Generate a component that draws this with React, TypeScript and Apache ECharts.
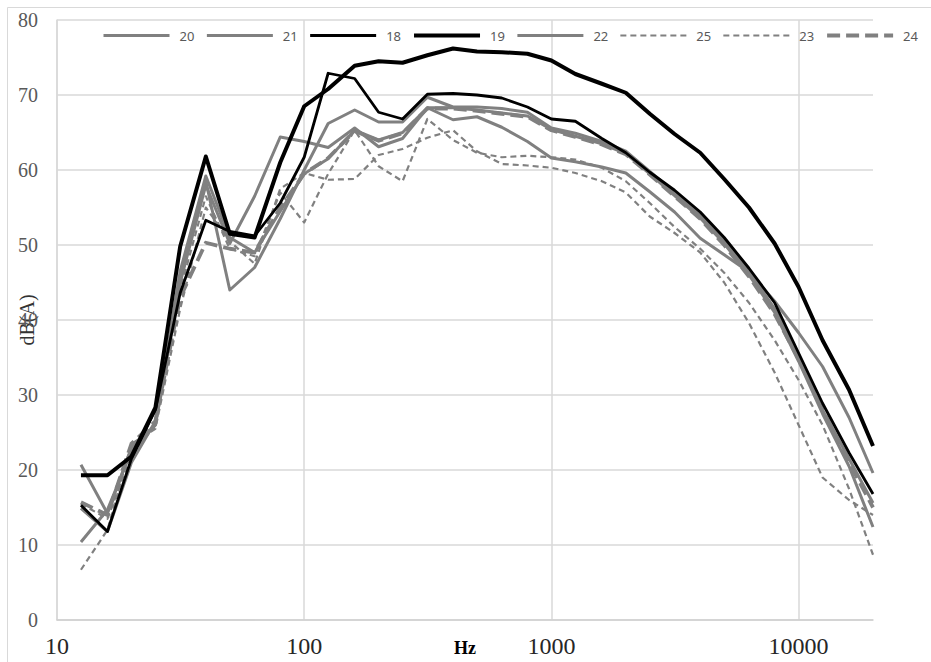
import React, { useEffect, useRef } from 'react';
import * as echarts from 'echarts';

// third-octave band centre frequencies (Hz)
const frequencies = [12.5, 16, 20, 25, 31.5, 40, 50, 63, 80, 100, 125, 160, 200, 250, 315, 400, 500, 630, 800, 1000, 1250, 1600, 2000, 2500, 3150, 4000, 5000, 6300, 8000, 10000, 12500, 16000, 20000];

const legendOrder = ['20', '21', '18', '19', '22', '25', '23', '24'];
const xTickValues = [10, 100, 1000, 10000];

const s20 = [10.4, 14.7, 22.5, 26.0, 45.0, 58.0, 50.2, 56.5, 64.4, 63.8, 63.0, 65.6, 63.1, 64.2, 68.3, 66.7, 67.1, 65.7, 63.8, 61.6, 61.1, 60.4, 59.6, 57.1, 54.4, 50.9, 48.7, 46.4, 42.5, 38.3, 33.8, 27.0, 19.6];
const s21 = [14.9, 11.8, 21.0, 26.5, 46.0, 58.5, 44.0, 47.0, 53.5, 60.0, 66.2, 68.0, 66.4, 66.4, 69.7, 68.4, 68.4, 68.2, 67.7, 65.6, 64.9, 63.8, 62.5, 59.8, 57.0, 54.0, 50.6, 46.5, 41.5, 35.0, 28.0, 21.5, 15.6];
const s18 = [15.3, 11.8, 21.5, 28.0, 43.6, 53.3, 51.8, 51.2, 55.6, 61.7, 72.9, 72.2, 67.7, 66.8, 70.1, 70.2, 70.0, 69.6, 68.4, 66.8, 66.5, 64.2, 62.3, 59.7, 57.3, 54.4, 51.0, 46.9, 42.3, 35.6, 28.9, 22.3, 16.8];
const s19 = [19.3, 19.3, 21.8, 28.3, 49.8, 61.8, 51.5, 51.0, 61.0, 68.5, 70.8, 73.9, 74.5, 74.3, 75.3, 76.2, 75.8, 75.7, 75.5, 74.6, 72.8, 71.5, 70.3, 67.5, 64.8, 62.3, 58.8, 55.0, 50.2, 44.4, 37.3, 30.7, 23.2];
const s22 = [20.7, 14.2, 23.0, 26.0, 46.5, 59.2, 51.0, 49.0, 54.5, 59.5, 61.5, 65.3, 64.0, 65.0, 68.3, 68.3, 68.0, 67.6, 67.2, 65.4, 64.5, 63.5, 62.2, 59.5, 56.6, 53.6, 50.2, 46.0, 41.0, 34.5, 27.5, 20.5, 12.4];
const s25 = [15.5, 13.5, 22.0, 26.0, 44.0, 56.5, 49.5, 48.5, 57.0, 53.0, 59.5, 65.3, 60.5, 58.5, 66.8, 64.0, 62.3, 61.7, 61.9, 61.7, 61.4, 60.3, 58.5, 55.6, 52.4, 49.5, 46.3, 42.3, 37.3, 32.0, 26.0, 17.5, 8.7];
const s23 = [6.7, 12.0, 23.5, 25.5, 41.5, 55.0, 50.5, 47.5, 57.5, 59.6, 58.7, 58.8, 62.0, 62.8, 64.3, 65.3, 62.5, 60.8, 60.6, 60.3, 59.6, 58.5, 57.0, 53.8, 51.6, 49.0, 45.0, 39.6, 33.0, 26.0, 19.0, 16.0, 14.0];
const s24 = [15.7, 14.0, 23.5, 26.5, 43.0, 50.3, 49.5, 49.0, 55.0, 59.5, 61.6, 65.2, 63.9, 64.9, 68.2, 68.2, 67.9, 67.5, 67.1, 65.3, 64.4, 63.4, 62.1, 59.4, 56.5, 53.5, 50.0, 45.8, 40.8, 34.8, 28.0, 21.0, 15.0];

const GRAY = '#808080';
const BLACK = '#000000';

type Style = { color: string; width: number; type: any };
const styles: Record<string, Style> = {
  '20': { color: GRAY, width: 3, type: 'solid' },
  '21': { color: GRAY, width: 3, type: 'solid' },
  '18': { color: BLACK, width: 2.8, type: 'solid' },
  '19': { color: BLACK, width: 4, type: 'solid' },
  '22': { color: GRAY, width: 3, type: 'solid' },
  '25': { color: GRAY, width: 2.2, type: [6, 4] },
  '23': { color: GRAY, width: 2.2, type: [6, 4] },
  '24': { color: GRAY, width: 3.8, type: [13, 6] },
};

export default function App() {
  const ref = useRef<HTMLDivElement>(null);

  useEffect(() => {
    if (!ref.current) return;
    const chart = echarts.init(ref.current, undefined, { renderer: 'svg' });

    const mk = (name: string, values: number[], z: number) => {
      const st = styles[name];
      return {
        name,
        type: 'line',
        data: frequencies.map((f, i) => [f, values[i]]),
        symbol: 'none',
        showSymbol: false,
        z,
        lineStyle: { color: st.color, width: st.width, type: st.type, cap: 'butt', join: 'round' },
        itemStyle: { color: st.color },
        emphasis: { disabled: true },
      };
    };

    const option: any = {
      animation: false,
      backgroundColor: '#ffffff',
      textStyle: { fontFamily: 'Liberation Serif' },
      graphic: [
        {
          type: 'rect',
          silent: true,
          z: -10,
          shape: { x: 7.5, y: 7.5, width: 960, height: 720 },
          style: { fill: 'none', stroke: '#d9d9d9', lineWidth: 1 },
        },
      ],
      grid: { left: 57, right: 58, top: 20, bottom: 42, outerBoundsMode: 'none', containLabel: false },
      legend: {
        data: legendOrder.map((n) => ({
          name: n,
          lineStyle: { color: styles[n].color, width: styles[n].width, type: styles[n].type, cap: 'butt' },
        })),
        left: 102,
        top: 29,
        padding: 0,
        width: 829,
        itemWidth: 66,
        itemHeight: 14,
        itemGap: 11,
        itemStyle: { color: 'rgba(0,0,0,0)', borderColor: 'rgba(0,0,0,0)', borderWidth: 0, opacity: 0 },
        textStyle: { fontFamily: 'Noto Sans', fontSize: 13, color: '#595959', padding: [0, 0, 0, 5] },
        selectedMode: false,
      },
      xAxis: {
        type: 'log',
        logBase: 10,
        min: 10,
        max: 20000,
        name: 'Hz',
        nameLocation: 'middle',
        nameGap: 19,
        nameMoveOverlap: false,
        nameTextStyle: { fontFamily: 'Liberation Serif', fontWeight: 'bold', fontSize: 18, color: '#000' },
        axisLine: { show: true, lineStyle: { color: '#d0d0d0', width: 1.5 } },
        axisTick: { show: false },
        minorTick: { show: false },
        axisLabel: {
          fontFamily: 'Liberation Serif',
          fontSize: 24,
          color: '#262626',
          margin: 14,
          showMaxLabel: false,
          formatter: (v: number) => {
            const l = Math.log10(v);
            const r = Math.round(l);
            if (Math.abs(l - r) < 1e-6 && xTickValues.includes(Math.pow(10, r))) return String(Math.pow(10, r));
            return '';
          },
        },
        splitLine: { show: true, showMaxLine: false, lineStyle: { color: '#d9d9d9', width: 1.5 } },
      },
      yAxis: {
        type: 'value',
        min: 0,
        max: 80,
        interval: 10,
        name: 'dB(A)',
        nameLocation: 'middle',
        nameGap: 20,
        nameRotate: 90,
        nameMoveOverlap: false,
        nameTextStyle: { fontFamily: 'Liberation Serif', fontSize: 20, color: '#333333' },
        axisLine: { show: true, lineStyle: { color: '#d9d9d9', width: 1.5 } },
        axisTick: { show: false },
        axisLabel: { fontFamily: 'Liberation Serif', fontSize: 20, color: '#595959', margin: 19 },
        splitLine: { show: true, lineStyle: { color: '#d9d9d9', width: 1.5 } },
      },
      series: [
        mk('25', s25, 2),
        mk('23', s23, 2),
        mk('24', s24, 2),
        mk('20', s20, 3),
        mk('21', s21, 3),
        mk('22', s22, 3),
        mk('18', s18, 4),
        mk('19', s19, 4),
      ],
    };

    chart.setOption(option);
    return () => chart.dispose();
  }, []);

  return <div ref={ref} style={{ position: 'absolute', left: 0, top: 0, width: 931, height: 662 }} />;
}
